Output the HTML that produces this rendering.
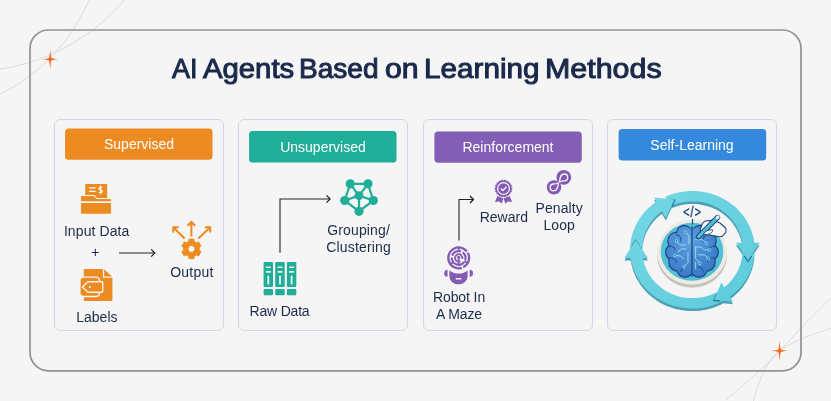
<!DOCTYPE html>
<html lang="en">
<head>
<meta charset="utf-8">
<title>AI Agents Based on Learning Methods</title>
<style>
*{box-sizing:border-box;margin:0;padding:0}
html,body{width:831px;height:401px;overflow:hidden;background:#f5f5f5}
body{position:relative;font-family:"Liberation Sans",sans-serif;color:#1c2b4a}
.abs{position:absolute}
#bg{left:0;top:0;width:831px;height:401px}
h1{position:absolute;left:0;top:52px;width:831px;height:34px;font-size:27.3px;line-height:34px;font-weight:normal;-webkit-text-stroke:1px #1b2a4a;color:#1b2a4a;white-space:nowrap}
h1 span{position:absolute;top:0;transform-origin:0 0}
.card{position:absolute;top:119px;width:170px;height:212px;border:1px solid #d3d6e4;border-radius:6px}
.btn{position:absolute;width:148px;height:32px;color:#fff;font-size:14px;line-height:32px;text-align:center}
.lbl{position:absolute;font-size:14px;line-height:17px;text-align:center;color:#1c2b4a;white-space:nowrap;transform:translateX(-50%)}
svg{position:absolute;overflow:visible}
.lbl,.btn,h1,#icons{will-change:opacity;opacity:0.999}
</style>
</head>
<body>
<svg id="bg" class="abs" viewBox="0 0 831 401">
  <path d="M0 69 C50 62 95 35 124 0" fill="none" stroke="#d6d6d6" stroke-width="0.85"/>
  <path d="M0 94 C40 75 72 40 89 0" fill="none" stroke="#d6d6d6" stroke-width="0.85"/>
  <path d="M831 328.4 C815 333 793 341 779.6 350.9 S759 381 753.4 401" fill="none" stroke="#d6d6d6" stroke-width="0.85"/>
  <path d="M831 298 C812 316 795 334 779.6 350.9 S750 379 726 400" fill="none" stroke="#d6d6d6" stroke-width="0.85"/>
</svg>
<svg class="abs" style="left:0;top:0" width="831" height="401" viewBox="0 0 831 401"><rect x="30" y="30" width="771" height="340.8" rx="18.5" fill="none" stroke="#929292" stroke-width="1.7"/></svg>
<svg class="abs" style="left:0;top:0" width="831" height="401" viewBox="0 0 831 401"><path transform="translate(50.2 59.3)" d="M0 -10.0 Q0.55 -2.6 1.25 -1.25 Q2.6 -0.55 8.0 0 Q2.6 0.55 1.25 1.25 Q0.55 2.6 0 10.0 Q-0.55 2.6 -1.25 1.25 Q-2.6 0.55 -8.0 0 Q-2.6 -0.55 -1.25 -1.25 Q-0.55 -2.6 0 -10.0Z" fill="#f4691c"/></svg>
<svg class="abs" style="left:0;top:0" width="831" height="401" viewBox="0 0 831 401"><path transform="translate(779.6 350.8)" d="M0 -10.4 Q0.55 -2.6 1.25 -1.25 Q2.6 -0.55 8.5 0 Q2.6 0.55 1.25 1.25 Q0.55 2.6 0 10.4 Q-0.55 2.6 -1.25 1.25 Q-2.6 0.55 -8.5 0 Q-2.6 -0.55 -1.25 -1.25 Q-0.55 -2.6 0 -10.4Z" fill="#f4691c"/></svg>

<svg id="icons" class="abs" style="left:0;top:0" width="831" height="401" viewBox="0 0 831 401">
<!-- Supervised: input data folder -->
<g fill="#ec8b22">
  <rect x="85.2" y="184" width="22" height="15" rx="1"/>
  <path d="M80 195 H94.5 L97 198 H112 V202 H80Z" fill="#f5f5f5"/>
  <path d="M81 197 a1 1 0 0 1 1 -1 H94 L96.5 199 H110 a1 1 0 0 1 1 1 V201.3 H81Z"/>
  <path d="M81 203 H111 V212.8 a1 1 0 0 1 -1 1 H82 a1 1 0 0 1 -1 -1Z"/>
</g>
<g stroke="#fff" stroke-width="1" fill="none">
  <path d="M89 187.8 H95.6 M89 191.4 H95.6" stroke-width="1.3"/>
  <path d="M102.2 187.6 C101.6 186.8 99 186.7 99 188.4 C99 190.2 102.3 189.4 102.3 191.3 C102.3 193 99.6 193 98.9 192 M100.6 185.6 V194.4" stroke-width="1.15"/>
</g>
<!-- arrow supervised -->
<path d="M119 253 H154.6" stroke="#242424" stroke-width="1.1" fill="none"/>
<path d="M151.2 249.4 L154.8 253 L151.2 256.6" stroke="#111" stroke-width="1.1" fill="none"/>
<!-- Output gear -->
<path d="M188.58 241.41 L188.90 239.11 L193.90 239.11 L194.22 241.41 L196.47 242.72 L198.63 241.84 L201.12 246.17 L199.29 247.60 L199.29 250.20 L201.12 251.63 L198.63 255.96 L196.47 255.08 L194.22 256.39 L193.90 258.69 L188.90 258.69 L188.58 256.39 L186.33 255.08 L184.17 255.96 L181.68 251.63 L183.51 250.20 L183.51 247.60 L181.68 246.17 L184.17 241.84 L186.33 242.72Z M188.00 248.90 a3.4 3.4 0 1 0 6.8 0 a3.4 3.4 0 1 0 -6.8 0Z" stroke="#ec8b22" stroke-width="0.8" stroke-linejoin="round" fill="#ec8b22" fill-rule="evenodd"/>
<g stroke="#ec8b22" stroke-width="2" fill="none">
  <path d="M191.4 236.5 V222 M187.6 225.8 L191.4 222 L195.2 225.8"/>
  <path d="M184.6 238.5 L173.8 227.7 M173.3 232.6 V227.2 H178.7"/>
  <path d="M198.3 238.5 L209.7 227.7 M204.8 227.2 H210.2 V232.6"/>
</g>
<!-- Labels doc -->
<g>
  <path d="M83.8 269.1 H102.9 V277.7 H112.4 V300 a1 1 0 0 1 -1 1 H84.8 a1 1 0 0 1 -1 -1Z" fill="#ec8b22"/>
  <path d="M104.2 269.3 L112 276.4 H104.2Z" fill="#ec8b22"/>
  <rect x="79.9" y="277.1" width="19.6" height="19.4" rx="3.5" fill="#ec8b22" stroke="#f5f5f5" stroke-width="1.4"/>
  <path d="M82.4 287 L88 281.7 H101.7 a1 1 0 0 1 1 1 V291.2 a1 1 0 0 1 -1 1 H88Z" fill="#ec8b22" stroke="#f5f5f5" stroke-width="1.4" stroke-linejoin="round"/>
  <circle cx="89.8" cy="287" r="1.1" fill="#f5f5f5"/>
</g>
<!-- Unsupervised cluster -->
<g stroke="#1fae98" stroke-width="2.2" fill="none">
  <path d="M350.2 183.8 L368 183.8 L373.3 200.5 L359 211.3 L344.7 200.5Z"/>
  <path d="M359 195.6 L350.2 183.8 M359 195.6 L368 183.8 M359 195.6 L373.3 200.5 M359 195.6 L359 211.3 M359 195.6 L344.7 200.5"/>
</g>
<g fill="#1fae98">
  <circle cx="350.2" cy="183.8" r="4.6"/><circle cx="368" cy="183.8" r="4.6"/>
  <circle cx="344.7" cy="200.5" r="4.6"/><circle cx="373.3" cy="200.5" r="4.6"/>
  <circle cx="359" cy="211.3" r="4.6"/><circle cx="359" cy="195.6" r="4.4"/>
</g>
<!-- unsupervised arrow -->
<path d="M280 252.8 V199 H329.8" stroke="#242424" stroke-width="1.1" fill="none"/>
<path d="M326.5 195.4 L330.1 199 L326.5 202.6" stroke="#111" stroke-width="1.1" fill="none"/>
<!-- Raw data -->
<g fill="#1fae98">
  <rect x="263.6" y="262" width="9.4" height="25" rx="1"/><rect x="263.6" y="288.9" width="9.4" height="6.4" rx="1"/>
  <rect x="275.2" y="262" width="9.5" height="25" rx="1"/><rect x="275.2" y="288.9" width="9.5" height="6.4" rx="1"/>
  <rect x="286.9" y="262" width="9.4" height="25" rx="1"/><rect x="286.9" y="288.9" width="9.4" height="6.4" rx="1"/>
</g>
<g stroke="#f5f5f5" stroke-linecap="round" fill="none">
  <path d="M266.5 267.3 H270.1 M266.5 271.9 H270.1 M278.2 267.3 H281.8 M278.2 271.9 H281.8 M289.8 267.3 H293.4 M289.8 271.9 H293.4" stroke-width="1.6"/>
  <path d="M268.3 276.3 V283.7 M280 276.3 V283.7 M291.6 276.3 V283.7" stroke-width="1.8"/>
</g>
<!-- Reinforcement arrow -->
<path d="M459 240.6 V199.5 H473.2" stroke="#242424" stroke-width="1.1" fill="none"/>
<path d="M470 196 L473.5 199.5 L470 203" stroke="#111" stroke-width="1.1" fill="none"/>
<!-- Reward badge -->
<g fill="#835bb3">
  <path d="M497.6 195.5 L494.9 201.9 L499.4 201.4 L501.6 203.8 L503.4 198.5Z M509.4 195.5 L512.1 201.9 L507.6 201.4 L505.4 203.8 L503.6 198.5Z"/>
  <path d="M512.85 188.50 L512.71 188.90 L512.37 189.28 L512.01 189.62 L511.82 189.97 L511.88 190.36 L512.10 190.80 L512.29 191.27 L512.29 191.70 L512.02 192.03 L511.57 192.26 L511.11 192.46 L510.82 192.72 L510.74 193.11 L510.79 193.60 L510.81 194.11 L510.66 194.51 L510.30 194.73 L509.79 194.79 L509.30 194.83 L508.93 194.97 L508.72 195.31 L508.60 195.79 L508.45 196.27 L508.18 196.60 L507.76 196.68 L507.26 196.57 L506.78 196.43 L506.39 196.44 L506.08 196.68 L505.80 197.10 L505.50 197.50 L505.12 197.71 L504.70 197.64 L504.28 197.37 L503.87 197.07 L503.50 196.95 L503.13 197.07 L502.72 197.37 L502.30 197.64 L501.88 197.71 L501.50 197.50 L501.20 197.10 L500.92 196.68 L500.61 196.44 L500.22 196.43 L499.74 196.57 L499.24 196.68 L498.82 196.60 L498.55 196.27 L498.40 195.79 L498.28 195.31 L498.07 194.97 L497.70 194.83 L497.21 194.79 L496.70 194.73 L496.34 194.51 L496.19 194.11 L496.21 193.60 L496.26 193.11 L496.18 192.72 L495.89 192.46 L495.43 192.26 L494.98 192.03 L494.71 191.70 L494.71 191.27 L494.90 190.80 L495.12 190.36 L495.18 189.97 L494.99 189.62 L494.63 189.28 L494.29 188.90 L494.15 188.50 L494.29 188.10 L494.63 187.72 L494.99 187.38 L495.18 187.03 L495.12 186.64 L494.90 186.20 L494.71 185.73 L494.71 185.30 L494.98 184.97 L495.43 184.74 L495.89 184.54 L496.18 184.28 L496.26 183.89 L496.21 183.40 L496.19 182.89 L496.34 182.49 L496.70 182.27 L497.21 182.21 L497.70 182.17 L498.07 182.03 L498.28 181.69 L498.40 181.21 L498.55 180.73 L498.82 180.40 L499.24 180.32 L499.74 180.43 L500.22 180.57 L500.61 180.56 L500.92 180.32 L501.20 179.90 L501.50 179.50 L501.88 179.29 L502.30 179.36 L502.72 179.63 L503.13 179.93 L503.50 180.05 L503.87 179.93 L504.28 179.63 L504.70 179.36 L505.12 179.29 L505.50 179.50 L505.80 179.90 L506.08 180.32 L506.39 180.56 L506.78 180.57 L507.26 180.43 L507.76 180.32 L508.18 180.40 L508.45 180.73 L508.60 181.21 L508.72 181.69 L508.93 182.03 L509.30 182.17 L509.79 182.21 L510.30 182.27 L510.66 182.49 L510.81 182.89 L510.79 183.40 L510.74 183.89 L510.82 184.28 L511.11 184.54 L511.57 184.74 L512.02 184.97 L512.29 185.30 L512.29 185.73 L512.10 186.20 L511.88 186.64 L511.82 187.03 L512.01 187.38 L512.37 187.72 L512.71 188.10Z" stroke="#f5f5f5" stroke-width="1"/>
  <circle cx="503.5" cy="188.5" r="5.9" fill="none" stroke="#f5f5f5" stroke-width="1.25"/>
  <path d="M500.8 188.6 L502.8 190.6 L506.4 186.7" fill="none" stroke="#f5f5f5" stroke-width="1.4"/>
</g>
<!-- Penalty loop -->
<g>
  <circle cx="563.8" cy="177.3" r="7.4" fill="#835bb3"/>
  <circle cx="554" cy="187.4" r="7.2" fill="#835bb3"/>
  <path d="M559.6 181.8 C559.8 177.5 561 174 564.3 174 a3.4 3.4 0 0 1 0 6.8 C562.3 180.8 561 181.2 559.6 181.8Z" fill="none" stroke="#f5f5f5" stroke-width="1.3"/>
  <path d="M558.3 183 C558.1 187.3 556.9 190.8 553.6 190.8 a3.4 3.4 0 0 1 0 -6.8 C555.6 184 556.9 183.6 558.3 183Z" fill="none" stroke="#f5f5f5" stroke-width="1.3"/>
</g>
<!-- Robot in a maze -->
<g fill="none" stroke="#835bb3" stroke-linecap="butt">
  <circle cx="458.7" cy="257.9" r="10.4" stroke-width="2.3" stroke-dasharray="22 1.5 17 1.5 100" transform="rotate(200 458.7 257.9)"/>
  <circle cx="458.7" cy="257.9" r="6.9" stroke-width="2.2" stroke-dasharray="13 1.8 11 1.8 9 1.8 100" transform="rotate(75 458.7 257.9)"/>
  <circle cx="458.7" cy="257.9" r="3.6" stroke-width="1.9" stroke-dasharray="15 3 100" transform="rotate(130 458.7 257.9)"/>
  <path d="M458.7 247.5 V252 M464.5 261 L468 263.5 M452.5 262.5 L450 265 M458.7 259 V266" stroke-width="1.8"/>
  <circle cx="458.7" cy="257.4" r="1.6" fill="#835bb3" stroke="none"/>
</g>
<g fill="#835bb3">
  <path d="M449.4 270.2 C452 272.6 455 273.6 458.7 273.6 C462.4 273.6 465.4 272.6 467.6 270.2 V276 C467.6 281 463.5 284.3 458.5 284.3 C453.5 284.3 449.4 281 449.4 276Z"/>
  <path d="M447.5 269.7 A3.3 3.5 0 0 0 447.5 276.7Z"/>
  <path d="M469.7 269.7 A3.3 3.5 0 0 1 469.7 276.7Z"/>
  <rect x="455.8" y="277.9" width="5.6" height="1.7" rx="0.5" fill="#f5f5f5"/>
</g>
<!-- Self-learning illustration -->
<defs>
<linearGradient id="rg" gradientUnits="userSpaceOnUse" x1="630" y1="190" x2="755" y2="312"><stop offset="0" stop-color="#74d8e4"/><stop offset="1" stop-color="#5ccadb"/></linearGradient>
<radialGradient id="bg1" gradientUnits="userSpaceOnUse" cx="688" cy="240" r="40"><stop offset="0" stop-color="#5e9fe0"/><stop offset="1" stop-color="#3776c4"/></radialGradient>
</defs>
<g fill="#4ba0b6">
<path d="M630.2 249.0 L630.3 247.7 L630.4 246.4 L630.6 245.0 L630.8 243.7 L631.0 242.4 L631.3 241.1 L631.6 239.7 L631.9 238.4 L632.2 237.1 L632.6 235.8 L633.0 234.5 L633.5 233.3 L634.0 232.0 L634.5 230.7 L635.0 229.5 L635.6 228.3 L636.2 227.1 L636.8 225.8 L637.5 224.7 L638.1 223.5 L638.9 222.3 L639.6 221.2 L640.4 220.0 L641.2 218.9 L642.0 217.8 L642.8 216.8 L643.7 215.7 L644.6 214.7 L645.5 213.6 L646.5 212.6 L647.5 211.7 L648.5 210.7 L649.5 209.8 L650.5 208.8 L651.6 207.9 L652.7 207.1 L653.8 206.2 L654.9 205.4 L656.1 204.6 L657.2 203.8 L664.0 212.4 L663.1 213.0 L662.1 213.7 L661.2 214.4 L660.3 215.1 L659.5 215.8 L658.6 216.5 L657.8 217.3 L656.9 218.0 L656.1 218.8 L655.3 219.6 L654.6 220.5 L653.8 221.3 L653.1 222.1 L652.4 223.0 L651.7 223.9 L651.0 224.8 L650.4 225.7 L649.8 226.7 L649.2 227.6 L648.6 228.6 L648.0 229.5 L647.5 230.5 L647.0 231.5 L646.5 232.5 L646.1 233.5 L645.6 234.6 L645.2 235.6 L644.8 236.6 L644.5 237.7 L644.1 238.7 L643.8 239.8 L643.5 240.9 L643.3 242.0 L643.0 243.0 L642.8 244.1 L642.6 245.2 L642.5 246.3 L642.4 247.4 L642.3 248.5 L642.2 249.6Z"/>
<path d="M665.3 199.4 L668.1 198.3 L670.8 197.2 L673.7 196.3 L676.5 195.5 L679.5 194.9 L682.4 194.4 L685.4 194.0 L688.3 193.7 L691.3 193.6 L694.3 193.6 L697.3 193.8 L700.3 194.1 L703.3 194.5 L706.2 195.1 L709.1 195.7 L712.0 196.6 L714.8 197.5 L717.5 198.6 L720.3 199.8 L722.9 201.1 L725.5 202.6 L728.0 204.1 L730.4 205.8 L732.7 207.6 L735.0 209.4 L737.1 211.4 L739.1 213.5 L741.0 215.6 L742.9 217.9 L744.6 220.2 L746.1 222.6 L747.6 225.1 L748.9 227.6 L750.1 230.2 L751.2 232.9 L752.1 235.5 L752.9 238.3 L753.5 241.0 L754.0 243.8 L754.4 246.6 L742.5 247.6 L742.2 245.3 L741.8 243.0 L741.2 240.7 L740.6 238.5 L739.8 236.3 L739.0 234.1 L738.0 232.0 L737.0 229.9 L735.8 227.9 L734.5 225.9 L733.1 224.0 L731.7 222.1 L730.1 220.3 L728.5 218.6 L726.8 217.0 L725.0 215.5 L723.1 214.0 L721.1 212.6 L719.1 211.3 L717.0 210.1 L714.9 209.1 L712.7 208.1 L710.5 207.2 L708.2 206.4 L705.9 205.7 L703.5 205.2 L701.2 204.7 L698.8 204.3 L696.4 204.1 L694.0 204.0 L691.5 204.0 L689.1 204.1 L686.7 204.3 L684.3 204.6 L681.9 205.0 L679.6 205.5 L677.3 206.2 L675.0 206.9 L672.7 207.8 L670.5 208.8Z"/>
<path d="M754.5 256.9 L754.4 258.2 L754.2 259.5 L754.1 260.7 L753.9 262.0 L753.6 263.2 L753.4 264.5 L753.1 265.7 L752.7 267.0 L752.4 268.2 L752.0 269.4 L751.6 270.6 L751.2 271.8 L750.7 273.0 L750.2 274.2 L749.7 275.4 L749.2 276.5 L748.6 277.7 L748.0 278.8 L747.4 279.9 L746.8 281.1 L746.1 282.2 L745.4 283.2 L744.7 284.3 L743.9 285.4 L743.2 286.4 L742.4 287.4 L741.6 288.5 L740.7 289.4 L739.9 290.4 L739.0 291.4 L738.1 292.3 L737.1 293.2 L736.2 294.1 L735.2 295.0 L734.2 295.9 L733.2 296.7 L732.2 297.5 L731.2 298.3 L730.1 299.1 L729.0 299.9 L722.0 291.5 L722.8 290.9 L723.7 290.2 L724.5 289.6 L725.4 288.9 L726.2 288.2 L727.0 287.5 L727.8 286.8 L728.5 286.0 L729.3 285.3 L730.0 284.5 L730.7 283.7 L731.4 282.9 L732.1 282.1 L732.7 281.3 L733.4 280.4 L734.0 279.6 L734.6 278.7 L735.2 277.8 L735.7 276.9 L736.3 276.0 L736.8 275.1 L737.3 274.2 L737.8 273.2 L738.2 272.3 L738.7 271.3 L739.1 270.3 L739.5 269.4 L739.9 268.4 L740.2 267.4 L740.5 266.4 L740.8 265.4 L741.1 264.4 L741.4 263.4 L741.6 262.3 L741.8 261.3 L742.0 260.3 L742.2 259.3 L742.3 258.2 L742.4 257.2 L742.5 256.1Z"/>
<path d="M723.0 303.6 L720.2 304.9 L717.5 306.1 L714.6 307.2 L711.8 308.2 L708.8 309.0 L705.9 309.7 L702.9 310.3 L699.8 310.7 L696.8 311.0 L693.7 311.1 L690.7 311.1 L687.6 310.9 L684.6 310.6 L681.5 310.2 L678.5 309.6 L675.6 308.9 L672.6 308.1 L669.8 307.1 L666.9 306.0 L664.2 304.7 L661.5 303.4 L658.9 301.9 L656.3 300.3 L653.9 298.5 L651.5 296.7 L649.3 294.7 L647.1 292.7 L645.1 290.5 L643.1 288.3 L641.3 286.0 L639.6 283.6 L638.1 281.1 L636.6 278.5 L635.3 275.9 L634.2 273.3 L633.2 270.5 L632.3 267.8 L631.6 265.0 L631.0 262.1 L630.5 259.3 L642.5 258.1 L642.8 260.4 L643.3 262.7 L643.9 265.1 L644.6 267.3 L645.4 269.6 L646.3 271.8 L647.4 273.9 L648.5 276.0 L649.8 278.1 L651.2 280.1 L652.6 282.0 L654.2 283.8 L655.8 285.6 L657.6 287.3 L659.4 288.9 L661.3 290.4 L663.3 291.8 L665.3 293.1 L667.4 294.4 L669.6 295.5 L671.8 296.5 L674.1 297.4 L676.5 298.3 L678.8 299.0 L681.2 299.5 L683.6 300.0 L686.1 300.4 L688.5 300.6 L691.0 300.7 L693.5 300.7 L695.9 300.6 L698.4 300.4 L700.8 300.1 L703.3 299.6 L705.7 299.0 L708.0 298.4 L710.4 297.6 L712.6 296.7 L714.9 295.6 L717.1 294.5Z"/>
<path d="M654.1 200.0 L674.5 202.1 L665.8 220.6Z"/>
<path d="M759.6 245.2 L748.0 263.0 L736.0 245.2Z"/>
<path d="M733.0 304.3 L714.0 302.2 L721.4 285.0Z"/>
<path d="M624.4 260.5 L635.6 242.5 L648.0 260.5Z"/>
</g>
<g fill="url(#rg)">
<path d="M630.2 246.4 L630.3 245.1 L630.4 243.8 L630.6 242.4 L630.8 241.1 L631.0 239.8 L631.3 238.5 L631.6 237.1 L631.9 235.8 L632.2 234.5 L632.6 233.2 L633.0 231.9 L633.5 230.7 L634.0 229.4 L634.5 228.1 L635.0 226.9 L635.6 225.7 L636.2 224.5 L636.8 223.2 L637.5 222.1 L638.1 220.9 L638.9 219.7 L639.6 218.6 L640.4 217.4 L641.2 216.3 L642.0 215.2 L642.8 214.2 L643.7 213.1 L644.6 212.1 L645.5 211.0 L646.5 210.0 L647.5 209.1 L648.5 208.1 L649.5 207.2 L650.5 206.2 L651.6 205.3 L652.7 204.5 L653.8 203.6 L654.9 202.8 L656.1 202.0 L657.2 201.2 L664.0 209.8 L663.1 210.4 L662.1 211.1 L661.2 211.8 L660.3 212.5 L659.5 213.2 L658.6 213.9 L657.8 214.7 L656.9 215.4 L656.1 216.2 L655.3 217.0 L654.6 217.9 L653.8 218.7 L653.1 219.5 L652.4 220.4 L651.7 221.3 L651.0 222.2 L650.4 223.1 L649.8 224.1 L649.2 225.0 L648.6 226.0 L648.0 226.9 L647.5 227.9 L647.0 228.9 L646.5 229.9 L646.1 230.9 L645.6 232.0 L645.2 233.0 L644.8 234.0 L644.5 235.1 L644.1 236.1 L643.8 237.2 L643.5 238.3 L643.3 239.4 L643.0 240.4 L642.8 241.5 L642.6 242.6 L642.5 243.7 L642.4 244.8 L642.3 245.9 L642.2 247.0Z"/>
<path d="M665.3 196.8 L668.1 195.7 L670.8 194.6 L673.7 193.7 L676.5 192.9 L679.5 192.3 L682.4 191.8 L685.4 191.4 L688.3 191.1 L691.3 191.0 L694.3 191.0 L697.3 191.2 L700.3 191.5 L703.3 191.9 L706.2 192.5 L709.1 193.1 L712.0 194.0 L714.8 194.9 L717.5 196.0 L720.3 197.2 L722.9 198.5 L725.5 200.0 L728.0 201.5 L730.4 203.2 L732.7 205.0 L735.0 206.8 L737.1 208.8 L739.1 210.9 L741.0 213.0 L742.9 215.3 L744.6 217.6 L746.1 220.0 L747.6 222.5 L748.9 225.0 L750.1 227.6 L751.2 230.3 L752.1 232.9 L752.9 235.7 L753.5 238.4 L754.0 241.2 L754.4 244.0 L742.5 245.0 L742.2 242.7 L741.8 240.4 L741.2 238.1 L740.6 235.9 L739.8 233.7 L739.0 231.5 L738.0 229.4 L737.0 227.3 L735.8 225.3 L734.5 223.3 L733.1 221.4 L731.7 219.5 L730.1 217.7 L728.5 216.0 L726.8 214.4 L725.0 212.9 L723.1 211.4 L721.1 210.0 L719.1 208.7 L717.0 207.5 L714.9 206.5 L712.7 205.5 L710.5 204.6 L708.2 203.8 L705.9 203.1 L703.5 202.6 L701.2 202.1 L698.8 201.7 L696.4 201.5 L694.0 201.4 L691.5 201.4 L689.1 201.5 L686.7 201.7 L684.3 202.0 L681.9 202.4 L679.6 202.9 L677.3 203.6 L675.0 204.3 L672.7 205.2 L670.5 206.2Z"/>
<path d="M754.5 254.3 L754.4 255.6 L754.2 256.9 L754.1 258.1 L753.9 259.4 L753.6 260.6 L753.4 261.9 L753.1 263.1 L752.7 264.4 L752.4 265.6 L752.0 266.8 L751.6 268.0 L751.2 269.2 L750.7 270.4 L750.2 271.6 L749.7 272.8 L749.2 273.9 L748.6 275.1 L748.0 276.2 L747.4 277.3 L746.8 278.5 L746.1 279.6 L745.4 280.6 L744.7 281.7 L743.9 282.8 L743.2 283.8 L742.4 284.8 L741.6 285.9 L740.7 286.8 L739.9 287.8 L739.0 288.8 L738.1 289.7 L737.1 290.6 L736.2 291.5 L735.2 292.4 L734.2 293.3 L733.2 294.1 L732.2 294.9 L731.2 295.7 L730.1 296.5 L729.0 297.3 L722.0 288.9 L722.8 288.3 L723.7 287.6 L724.5 287.0 L725.4 286.3 L726.2 285.6 L727.0 284.9 L727.8 284.2 L728.5 283.4 L729.3 282.7 L730.0 281.9 L730.7 281.1 L731.4 280.3 L732.1 279.5 L732.7 278.7 L733.4 277.8 L734.0 277.0 L734.6 276.1 L735.2 275.2 L735.7 274.3 L736.3 273.4 L736.8 272.5 L737.3 271.6 L737.8 270.6 L738.2 269.7 L738.7 268.7 L739.1 267.7 L739.5 266.8 L739.9 265.8 L740.2 264.8 L740.5 263.8 L740.8 262.8 L741.1 261.8 L741.4 260.8 L741.6 259.7 L741.8 258.7 L742.0 257.7 L742.2 256.7 L742.3 255.6 L742.4 254.6 L742.5 253.5Z"/>
<path d="M723.0 301.0 L720.2 302.3 L717.5 303.5 L714.6 304.6 L711.8 305.6 L708.8 306.4 L705.9 307.1 L702.9 307.7 L699.8 308.1 L696.8 308.4 L693.7 308.5 L690.7 308.5 L687.6 308.3 L684.6 308.0 L681.5 307.6 L678.5 307.0 L675.6 306.3 L672.6 305.5 L669.8 304.5 L666.9 303.4 L664.2 302.1 L661.5 300.8 L658.9 299.3 L656.3 297.7 L653.9 295.9 L651.5 294.1 L649.3 292.1 L647.1 290.1 L645.1 287.9 L643.1 285.7 L641.3 283.4 L639.6 281.0 L638.1 278.5 L636.6 275.9 L635.3 273.3 L634.2 270.7 L633.2 267.9 L632.3 265.2 L631.6 262.4 L631.0 259.5 L630.5 256.7 L642.5 255.5 L642.8 257.8 L643.3 260.1 L643.9 262.5 L644.6 264.7 L645.4 267.0 L646.3 269.2 L647.4 271.3 L648.5 273.4 L649.8 275.5 L651.2 277.5 L652.6 279.4 L654.2 281.2 L655.8 283.0 L657.6 284.7 L659.4 286.3 L661.3 287.8 L663.3 289.2 L665.3 290.5 L667.4 291.8 L669.6 292.9 L671.8 293.9 L674.1 294.8 L676.5 295.7 L678.8 296.4 L681.2 296.9 L683.6 297.4 L686.1 297.8 L688.5 298.0 L691.0 298.1 L693.5 298.1 L695.9 298.0 L698.4 297.8 L700.8 297.5 L703.3 297.0 L705.7 296.4 L708.0 295.8 L710.4 295.0 L712.6 294.1 L714.9 293.0 L717.1 291.9Z"/>
</g>
<g fill="none" stroke="#2a6f95" stroke-width="1.6" stroke-linejoin="miter" stroke-linecap="butt">
<path d="M668.4 199.6 L674.5 200.2 L671.9 205.8"/>
<path d="M751.5 255.8 L748.0 261.1 L744.4 255.8"/>
<path d="M719.7 300.9 L714.0 300.3 L716.2 295.1"/>
<path d="M632.2 246.0 L635.6 240.6 L639.3 246.0"/>
</g>
<g fill="url(#rg)">
<path d="M654.1 197.5 L674.5 199.6 L665.8 218.1Z"/>
<path d="M759.6 242.7 L748.0 260.5 L736.0 242.7Z"/>
<path d="M733.0 301.8 L714.0 299.7 L721.4 282.5Z"/>
<path d="M624.4 258.0 L635.6 240.0 L648.0 258.0Z"/>
</g>
<ellipse cx="692" cy="255.2" rx="35" ry="32.6" fill="#c3c2bb"/>
<ellipse cx="692" cy="252.2" rx="35" ry="32.6" fill="#edebe4"/>
<ellipse cx="692" cy="251.7" rx="31.4" ry="29" fill="#52bfd8"/>
<g transform="translate(692 250.7) scale(0.95 0.975) translate(-692.2 -249.8)">
<g fill="#1f4684">
<circle cx="684.0" cy="232.2" r="8.9"/>
<circle cx="675.6" cy="239.8" r="9.5"/>
<circle cx="672.8" cy="251.4" r="8.9"/>
<circle cx="676.8" cy="261.6" r="9.7"/>
<circle cx="684.8" cy="268.4" r="9.3"/>
<circle cx="682.5" cy="250.0" r="14.8"/>
<circle cx="700.4" cy="232.2" r="8.9"/>
<circle cx="708.8" cy="239.8" r="9.5"/>
<circle cx="711.6" cy="251.4" r="8.9"/>
<circle cx="707.6" cy="261.6" r="9.7"/>
<circle cx="699.6" cy="268.4" r="9.3"/>
<circle cx="701.9" cy="250.0" r="14.8"/>
</g>
<g fill="url(#bg1)">
<circle cx="684.0" cy="232.2" r="7.6"/>
<circle cx="675.6" cy="239.8" r="8.2"/>
<circle cx="672.8" cy="251.4" r="7.6"/>
<circle cx="676.8" cy="261.6" r="8.4"/>
<circle cx="684.8" cy="268.4" r="8.0"/>
<circle cx="682.5" cy="250.0" r="13.5"/>
<circle cx="700.4" cy="232.2" r="7.6"/>
<circle cx="708.8" cy="239.8" r="8.2"/>
<circle cx="711.6" cy="251.4" r="7.6"/>
<circle cx="707.6" cy="261.6" r="8.4"/>
<circle cx="699.6" cy="268.4" r="8.0"/>
<circle cx="701.9" cy="250.0" r="13.5"/>
<rect x="680" y="227" width="24.4" height="47"/>
</g>
<path d="M692.2 224.6 V276.6" stroke="#1f4a86" stroke-width="1.4" fill="none"/>
<g stroke="#285a9f" stroke-width="1.2" fill="none" stroke-linecap="round">
<path d="M675.5 233 C679 234 681 236.5 680.2 240 M667 246 C670.5 244.5 673.5 246 674.5 249 M668 257.5 C671.5 256 675 258 676 261.5 M680.5 271.5 C680.5 268 683 266 686 267"/>
<path d="M708.9 233 C705.4 234 703.4 236.5 704.2 240 M717.4 246 C713.9 244.5 710.9 246 709.9 249 M716.4 257.5 C712.9 256 709.4 258 708.4 261.5 M703.9 271.5 C703.9 268 701.4 266 698.4 267"/>
</g>
<g stroke="#8fe3ee" stroke-width="1" fill="none" stroke-linecap="round" stroke-linejoin="round">
<path d="M686 231.5 L689 234.5 V243 M676.5 240.5 L680 244 H685 M677.5 251 L681 248 H686 M675 255 H680 L683 258 M688 252 V262 L684.5 265.5"/>
<path d="M696 238.5 H703.5 L706.5 241.5 M696 246 H702 L705 249 H709.5 M696 246 V258 L700 262 M699 254 H705.5 L708.5 257 M696 262 V268"/>
</g>
<g fill="#2f74c2" stroke="#8fe3ee" stroke-width="0.9">
<circle cx="685.3" cy="230.8" r="1.4"/>
<circle cx="675.8" cy="239.8" r="1.4"/>
<circle cx="674" cy="255" r="1.4"/>
<circle cx="683.8" cy="266.4" r="1.4"/>
<circle cx="707.4" cy="242.3" r="1.4"/>
<circle cx="710.5" cy="249" r="1.4"/>
<circle cx="709.3" cy="257.8" r="1.4"/>
<circle cx="700.6" cy="262.8" r="1.4"/>
</g>
</g>
<text transform="translate(692.6 216.9) scale(1.08 1.38)" x="0" y="0" text-anchor="middle" font-family="Liberation Sans, sans-serif" font-size="10" fill="#1f4a7a" stroke="#1f4a7a" stroke-width="0.35" letter-spacing="1">&lt;/&gt;</text>
<path d="M692.5 219 V224.6" stroke="#1f4a7a" stroke-width="1.2" fill="none"/>
<path d="M700.2 229.4 L702.6 223.2 Q704.5 220.6 707.5 220.6 L713.5 220.4 L720 223 L725.6 228 Q726.6 230 725.6 232.6 L722.6 236 Q721 237 718 236.6 L706 234.4 Q701 233 700.2 229.4Z" fill="#f7f6f2" stroke="#1f4a7a" stroke-width="1.1" stroke-linejoin="round"/>
<path d="M717.6 217.4 L698.4 236.8" stroke="#1f4a7a" stroke-width="5.2" stroke-linecap="round" fill="none"/>
<path d="M717.6 217.4 L698.6 236.6" stroke="#4fbdd6" stroke-width="3.1" stroke-linecap="round" fill="none"/>
<path d="M718.1 216.9 L717.3 217.7" stroke="#f4f3ef" stroke-width="3" stroke-linecap="round" fill="none"/>
<path d="M703.6 233.4 C705.6 230.8 709.4 229.4 712.6 229.8 C713.2 231.6 711 233.6 707.6 234.4 C706 234.6 704.4 234.2 703.6 233.4Z" fill="#f7f6f2" stroke="#1f4a7a" stroke-width="0.9" stroke-linejoin="round"/>
<!-- end self-learning -->
</svg>
<h1><span style="left:171.6px;transform:scaleX(0.99)">AI</span> <span style="left:202.9px;transform:scaleX(1.073)">Agents</span> <span style="left:299.3px;transform:scaleX(1.028)">Based</span> <span style="left:384.8px;transform:scaleX(1.107)">on</span> <span style="left:424.1px;transform:scaleX(1.087)">Learning</span> <span style="left:544.5px;transform:scaleX(1.114)">Methods</span></h1>

<div class="card" style="left:54px"></div>
<div class="card" style="left:238px"></div>
<div class="card" style="left:423px"></div>
<div class="card" style="left:607px"></div>

<svg class="abs" style="left:0;top:0" width="831" height="401" viewBox="0 0 831 401">
<rect x="65.05" y="128.4" width="147.45" height="31.4" rx="3.6" fill="#ec8b22"/>
<rect x="249.05" y="131.1" width="147.45" height="31.4" rx="3.6" fill="#1fae98"/>
<rect x="434.4" y="131.4" width="147.4" height="31.3" rx="3.6" fill="#825eb4"/>
<rect x="618.6" y="129.1" width="147.6" height="31.5" rx="3.6" fill="#3489dc"/>
</svg>
<div class="btn" style="left:65px;top:128px">Supervised</div>
<div class="btn" style="left:249px;top:131px">Unsupervised</div>
<div class="btn" style="left:434px;top:131px">Reinforcement</div>
<div class="btn" style="left:618px;top:129px">Self-Learning</div>

<div class="lbl" style="left:96.7px;top:223px;letter-spacing:0.1px">Input Data</div>
<div class="lbl" style="left:95.3px;top:244px">+</div>
<div class="lbl" style="left:191.9px;top:263.6px;letter-spacing:0.2px">Output</div>
<div class="lbl" style="left:96.9px;top:309px">Labels</div>

<div class="lbl" style="left:358.6px;top:221.5px;letter-spacing:0.15px">Grouping/<br>Clustering</div>
<div class="lbl" style="left:279.5px;top:303px;letter-spacing:-0.2px">Raw Data</div>

<div class="lbl" style="left:503.8px;top:208.6px">Reward</div>
<div class="lbl" style="left:559.2px;top:199.6px;letter-spacing:0.1px">Penalty<br>Loop</div>
<div class="lbl" style="left:459px;top:289.3px;letter-spacing:-0.1px">Robot In<br>A Maze</div>
</body>
</html>
